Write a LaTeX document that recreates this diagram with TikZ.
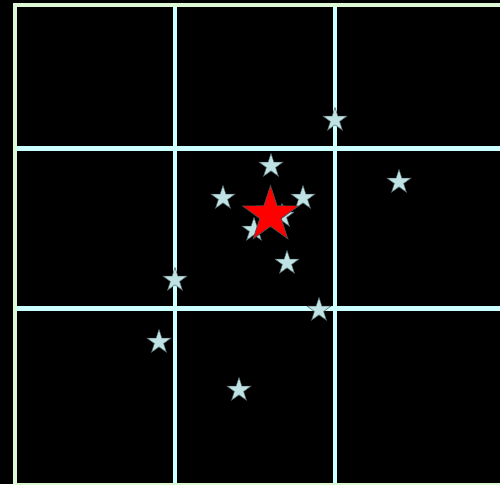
\documentclass[tikz,border=0pt]{standalone}
\usepackage{xcolor}
\usetikzlibrary{shapes.geometric}
\definecolor{fondo}{HTML}{000000}
\definecolor{borde}{HTML}{DDF8D4}
\definecolor{rejilla}{HTML}{CCFFFF}
\definecolor{estrella}{HTML}{BFE3E4}
\definecolor{contorno}{HTML}{5A6E70}
\begin{document}
\begin{tikzpicture}[
  x=0.02cm, y=-0.02cm,
  marco/.style={draw=borde},
  linea/.style={line width=2.4pt, draw=rejilla},
  chica/.style={star, star points=5, star point ratio=2.6, fill=estrella, draw=contorno,
                line width=0.3pt, inner sep=0pt, minimum size=0.5cm},
  grande/.style={star, star points=5, star point ratio=2.6, fill=red, draw=black!70,
                 line width=0.4pt, inner sep=0pt, minimum size=1.18cm},
]

% --- Fondo ---
\fill[fondo] (0,0) rectangle (500,484);
\useasboundingbox (0,0) rectangle (500,484);

% --- Rejilla ---
\draw[linea] (175,5) -- (175,484);
\draw[linea] (335,5) -- (335,484);
\draw[linea] (15,148.5) -- (500,148.5);
\draw[linea] (15,308.5) -- (500,308.5);

% --- Marco exterior ---
\draw[marco, line width=2.4pt] (15,484) -- (15,5) -- (500,5);
\draw[marco, line width=1pt] (15,484) -- (500,484);

% --- Estrellas pequeñas ---
\node[chica] (e1)  at (335,120) {};
\node[chica] (e2)  at (271,166) {};
\node[chica] (e3)  at (223,198) {};
\node[chica] (e4)  at (303,198) {};
\node[chica] (e5)  at (399,182) {};
\node[chica] (e6)  at (254,230) {};
\node[chica] (e7)  at (282,216) {};
\node[chica] (e8)  at (287,263) {};
\node[chica] (e9)  at (175,280) {};
\node[chica] (e10) at (319,310) {};
\node[chica] (e11) at (159,342) {};
\node[chica] (e12) at (239,390) {};

% --- Estrella central ---
\node[grande] (centro) at (270.5,215) {};

\end{tikzpicture}
\end{document}
